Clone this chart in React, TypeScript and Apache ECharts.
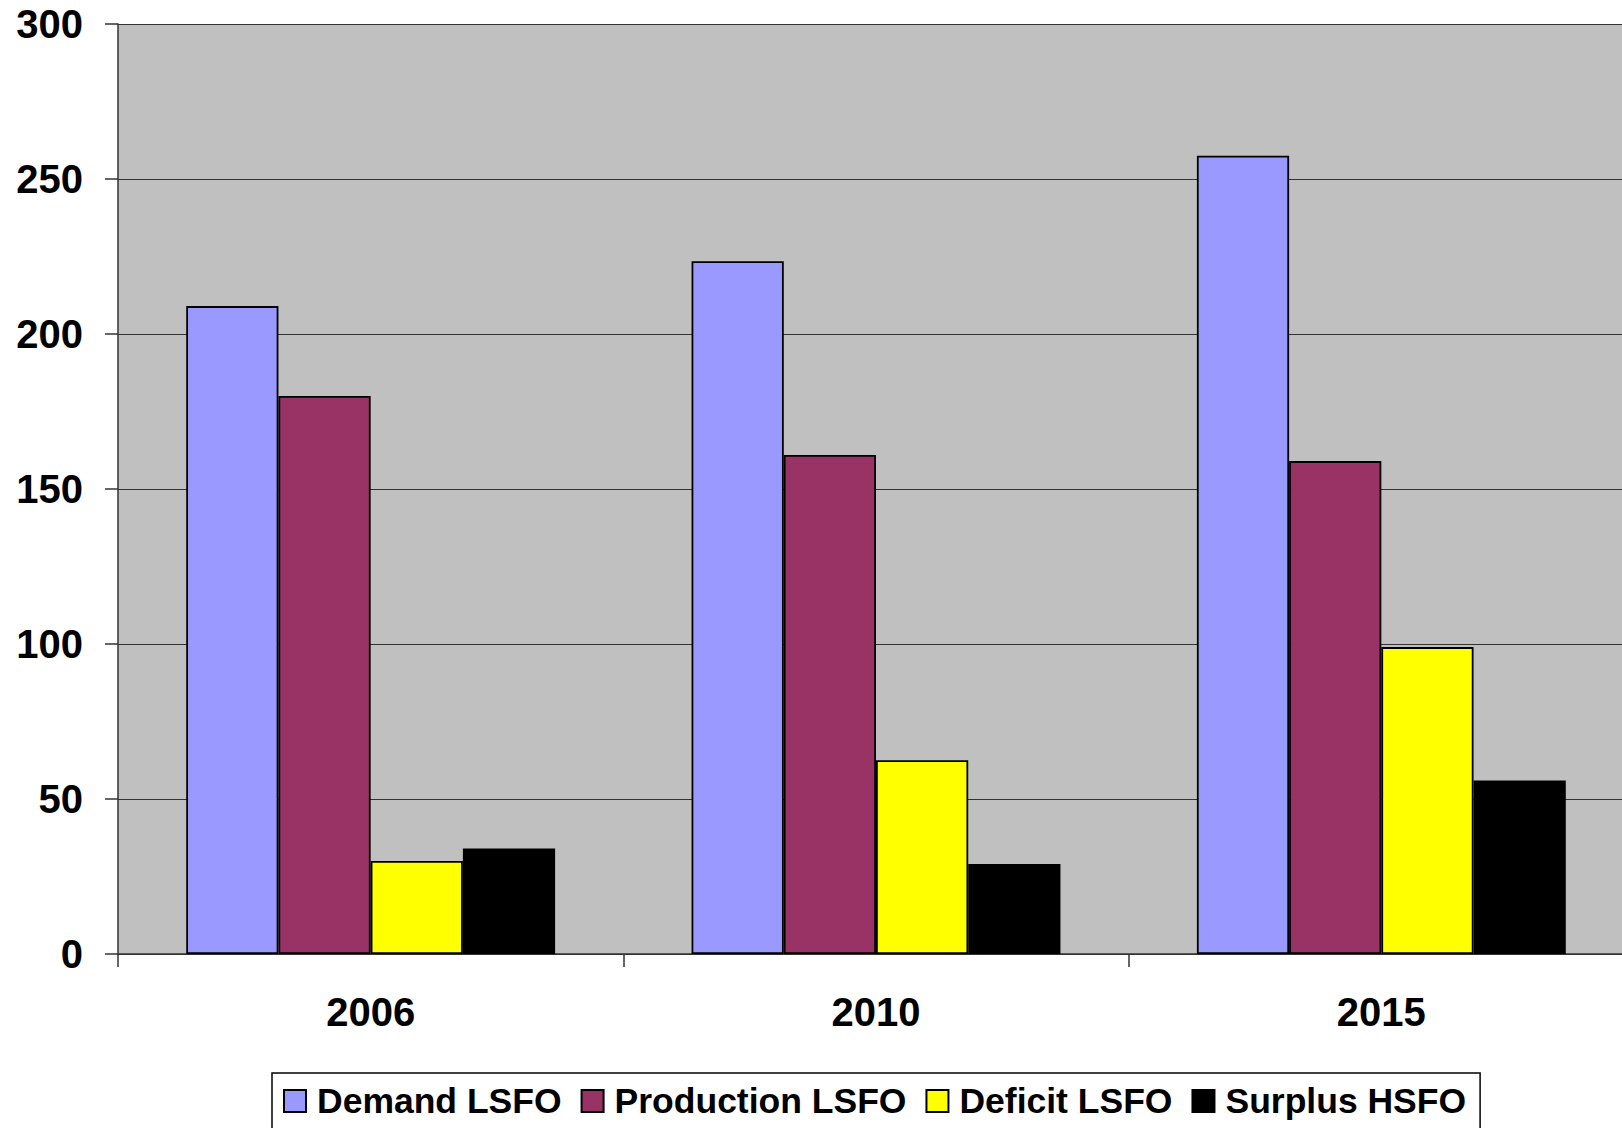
import React, { useEffect, useRef } from "react";
import * as echarts from "echarts";

const categories = ["2006", "2010", "2015"];
const demandLSFO = [209, 223.5, 257.5];
const productionLSFO = [180, 161, 159];
const deficitLSFO = [30, 62.5, 99];
const surplusHSFO = [34, 29, 56];
const seriesNames = ["Demand LSFO", "Production LSFO", "Deficit LSFO", "Surplus HSFO"];
const seriesColors = ["#9999FF", "#993366", "#FFFF00", "#000000"];
const yTicks = { min: 0, max: 300, interval: 50 };

const FONT = "'Liberation Sans', Arial, sans-serif";

export default function App() {
  const ref = useRef<HTMLDivElement>(null);
  useEffect(() => {
    if (!ref.current) return;
    const chart = echarts.init(ref.current, undefined, { renderer: "svg" });
    const values = [demandLSFO, productionLSFO, deficitLSFO, surplusHSFO];
    chart.setOption({
      animation: false,
      backgroundColor: "#FFFFFF",
      grid: {
        left: 118,
        top: 24,
        width: 1516,
        height: 930,
        outerBoundsMode: "none",
        containLabel: false,
        show: true,
        backgroundColor: "#C0C0C0",
        borderWidth: 0,
      },
      legend: {
        left: 272,
        top: 1073,
        orient: "horizontal",
        padding: [10, 14, 10, 11],
        itemGap: 19,
        itemWidth: 22,
        itemHeight: 22,
        borderColor: "#000",
        borderWidth: 1.5,
        backgroundColor: "#FFFFFF",
        icon: "rect",
        textStyle: {
          fontFamily: FONT,
          fontWeight: "bold",
          fontSize: 35.5,
          color: "#000",
          padding: [0, 0, 0, 6],
        },
        data: seriesNames,
      },
      xAxis: {
        type: "category",
        data: categories,
        boundaryGap: true,
        axisLine: { show: true, lineStyle: { color: "#333", width: 1.5 } },
        axisTick: { show: true, length: 13, alignWithLabel: false, lineStyle: { color: "#333", width: 1.5 } },
        axisLabel: {
          margin: 38,
          fontFamily: FONT,
          fontWeight: "bold",
          fontSize: 40,
          color: "#000",
        },
        splitLine: { show: false },
      },
      yAxis: {
        type: "value",
        min: yTicks.min,
        max: yTicks.max,
        interval: yTicks.interval,
        axisLine: { show: true, lineStyle: { color: "#333", width: 1.5 } },
        axisTick: { show: true, length: 13, inside: false, lineStyle: { color: "#333", width: 1.5 } },
        axisLabel: {
          margin: 35,
          fontFamily: FONT,
          fontWeight: "bold",
          fontSize: 40,
          color: "#000",
        },
        splitLine: { show: true, lineStyle: { color: "#333", width: 1.2 } },
      },
      series: seriesNames.map((name, i) => ({
        name,
        type: "bar",
        data: values[i],
        barGap: "0%",
        barCategoryGap: "27%",
        itemStyle: { color: seriesColors[i], borderColor: "#000", borderWidth: 1.8 },
      })),
    });
    return () => chart.dispose();
  }, []);
  return (
    <div
      ref={ref}
      style={{ position: "fixed", left: 0, top: 0, width: 1622, height: 1128 }}
    />
  );
}
